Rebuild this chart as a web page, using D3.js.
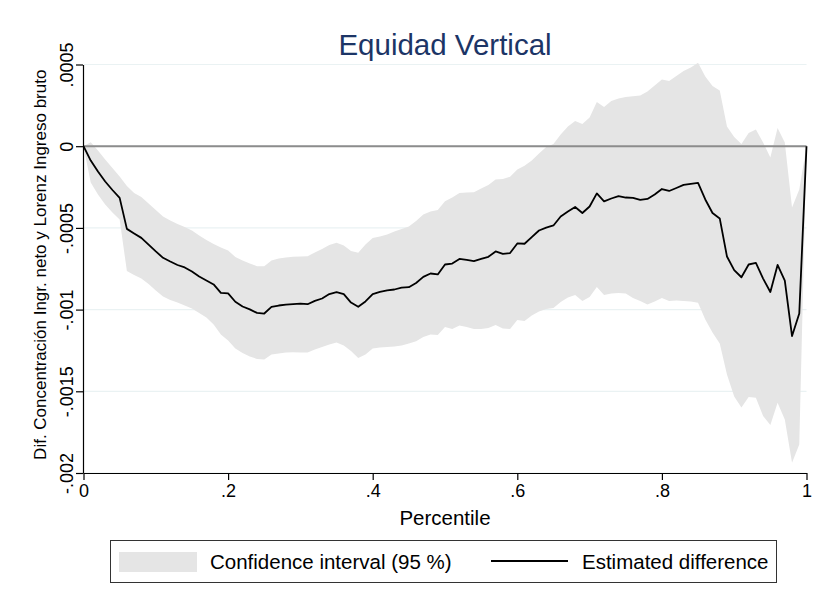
<!DOCTYPE html>
<html>
<head>
<meta charset="utf-8">
<script src="https://cdn.jsdelivr.net/npm/d3@7"></script>
<style>
  html, body { margin: 0; padding: 0; background: #ffffff; }
  svg { display: block; }
  text { font-family: "Liberation Sans", Arial, Helvetica, sans-serif; }
</style>
</head>
<body>
<div id="chart"></div>
<script>
// ---- data ----
const percentiles = [0,0.01,0.02,0.03,0.04,0.05,0.06,0.07,0.08,0.09,0.10,0.11,0.12,0.13,0.14,0.15,0.16,0.17,0.18,0.19,0.20,
  0.21,0.22,0.23,0.24,0.25,0.26,0.27,0.28,0.29,0.30,0.31,0.32,0.33,0.34,0.35,0.36,0.37,0.38,0.39,0.40,
  0.41,0.42,0.43,0.44,0.45,0.46,0.47,0.48,0.49,0.50,0.51,0.52,0.53,0.54,0.55,0.56,0.57,0.58,0.59,0.60,
  0.61,0.62,0.63,0.64,0.65,0.66,0.67,0.68,0.69,0.70,0.71,0.72,0.73,0.74,0.75,0.76,0.77,0.78,0.79,0.80,
  0.81,0.82,0.83,0.84,0.85,0.86,0.87,0.88,0.89,0.90,0.91,0.92,0.93,0.94,0.95,0.96,0.97,0.98,0.99,1.00];

const estimatedDifference = [0,-0.088e-3,-0.155e-3,-0.216e-3,-0.268e-3,-0.316e-3,-0.506e-3,-0.534e-3,-0.561e-3,-0.602e-3,-0.644e-3,
  -0.683e-3,-0.706e-3,-0.727e-3,-0.742e-3,-0.767e-3,-0.797e-3,-0.822e-3,-0.846e-3,-0.898e-3,-0.901e-3,
  -0.952e-3,-0.981e-3,-0.999e-3,-1.020e-3,-1.024e-3,-0.983e-3,-0.975e-3,-0.969e-3,-0.966e-3,-0.963e-3,
  -0.967e-3,-0.947e-3,-0.932e-3,-0.905e-3,-0.893e-3,-0.905e-3,-0.957e-3,-0.983e-3,-0.950e-3,-0.905e-3,
  -0.892e-3,-0.883e-3,-0.877e-3,-0.865e-3,-0.863e-3,-0.837e-3,-0.800e-3,-0.779e-3,-0.785e-3,-0.724e-3,
  -0.718e-3,-0.690e-3,-0.696e-3,-0.703e-3,-0.690e-3,-0.677e-3,-0.644e-3,-0.659e-3,-0.654e-3,-0.595e-3,
  -0.597e-3,-0.556e-3,-0.516e-3,-0.498e-3,-0.485e-3,-0.430e-3,-0.400e-3,-0.372e-3,-0.409e-3,-0.369e-3,
  -0.289e-3,-0.338e-3,-0.320e-3,-0.305e-3,-0.314e-3,-0.316e-3,-0.329e-3,-0.323e-3,-0.296e-3,-0.262e-3,
  -0.274e-3,-0.256e-3,-0.237e-3,-0.230e-3,-0.225e-3,-0.326e-3,-0.409e-3,-0.442e-3,-0.675e-3,-0.758e-3,
  -0.802e-3,-0.724e-3,-0.714e-3,-0.810e-3,-0.892e-3,-0.727e-3,-0.822e-3,-1.162e-3,-1.024e-3,0];

const ciUpper = [0,0.024e-3,-0.026e-3,-0.081e-3,-0.133e-3,-0.185e-3,-0.244e-3,-0.286e-3,-0.311e-3,-0.351e-3,-0.390e-3,
  -0.430e-3,-0.455e-3,-0.476e-3,-0.494e-3,-0.516e-3,-0.547e-3,-0.574e-3,-0.599e-3,-0.620e-3,-0.638e-3,
  -0.678e-3,-0.700e-3,-0.718e-3,-0.734e-3,-0.734e-3,-0.700e-3,-0.687e-3,-0.681e-3,-0.677e-3,-0.675e-3,
  -0.673e-3,-0.651e-3,-0.629e-3,-0.605e-3,-0.591e-3,-0.608e-3,-0.641e-3,-0.652e-3,-0.602e-3,-0.562e-3,
  -0.553e-3,-0.540e-3,-0.522e-3,-0.507e-3,-0.491e-3,-0.458e-3,-0.418e-3,-0.400e-3,-0.390e-3,-0.337e-3,
  -0.314e-3,-0.286e-3,-0.283e-3,-0.282e-3,-0.259e-3,-0.237e-3,-0.204e-3,-0.201e-3,-0.187e-3,-0.143e-3,
  -0.120e-3,-0.088e-3,-0.045e-3,-0.005e-3,0.013e-3,0.072e-3,0.121e-3,0.154e-3,0.136e-3,0.176e-3,
  0.271e-3,0.240e-3,0.277e-3,0.292e-3,0.301e-3,0.306e-3,0.310e-3,0.335e-3,0.371e-3,0.408e-3,
  0.399e-3,0.430e-3,0.460e-3,0.482e-3,0.510e-3,0.427e-3,0.368e-3,0.341e-3,0.121e-3,0.056e-3,
  0.013e-3,0.081e-3,0.102e-3,0.023e-3,-0.069e-3,0.111e-3,0.023e-3,-0.375e-3,-0.265e-3,0];

const ciLower = [0,-0.222e-3,-0.296e-3,-0.357e-3,-0.406e-3,-0.449e-3,-0.764e-3,-0.788e-3,-0.810e-3,-0.843e-3,-0.883e-3,
  -0.920e-3,-0.941e-3,-0.957e-3,-0.975e-3,-0.993e-3,-1.021e-3,-1.048e-3,-1.091e-3,-1.152e-3,-1.189e-3,
  -1.238e-3,-1.266e-3,-1.287e-3,-1.302e-3,-1.305e-3,-1.275e-3,-1.269e-3,-1.263e-3,-1.261e-3,-1.263e-3,
  -1.263e-3,-1.244e-3,-1.229e-3,-1.214e-3,-1.201e-3,-1.220e-3,-1.253e-3,-1.296e-3,-1.275e-3,-1.238e-3,
  -1.232e-3,-1.229e-3,-1.226e-3,-1.220e-3,-1.207e-3,-1.193e-3,-1.168e-3,-1.152e-3,-1.155e-3,-1.107e-3,
  -1.118e-3,-1.097e-3,-1.107e-3,-1.119e-3,-1.119e-3,-1.113e-3,-1.094e-3,-1.116e-3,-1.118e-3,-1.064e-3,
  -1.070e-3,-1.036e-3,-1.012e-3,-0.996e-3,-0.990e-3,-0.953e-3,-0.926e-3,-0.911e-3,-0.947e-3,-0.923e-3,
  -0.862e-3,-0.911e-3,-0.901e-3,-0.898e-3,-0.901e-3,-0.929e-3,-0.947e-3,-0.969e-3,-0.950e-3,-0.929e-3,
  -0.947e-3,-0.944e-3,-0.947e-3,-0.950e-3,-0.958e-3,-1.061e-3,-1.140e-3,-1.207e-3,-1.397e-3,-1.532e-3,
  -1.599e-3,-1.535e-3,-1.540e-3,-1.651e-3,-1.707e-3,-1.570e-3,-1.673e-3,-1.938e-3,-1.826e-3,0];

const xTickValues = [0, 0.2, 0.4, 0.6, 0.8, 1];
const xTickLabels = ["0", ".2", ".4", ".6", ".8", "1"];
const yTickValues = [0.0005, 0, -0.0005, -0.001, -0.0015, -0.002];
const yTickLabels = [".0005", "0", "-.0005", "-.001", "-.0015", "-.002"];

const titleText = "Equidad Vertical";
const xTitle = "Percentile";
const yTitle = "Dif. Concentración Ingr. neto y Lorenz Ingreso bruto";
const legendLabels = ["Confidence interval (95 %)", "Estimated difference"];

// ---- layout ----
const W = 819, H = 597;
const plot = { left: 83.5, right: 806.5, top: 64.5, bottom: 473 };

const svg = d3.select("#chart").append("svg")
  .attr("width", W).attr("height", H)
  .attr("viewBox", `0 0 ${W} ${H}`);

svg.append("rect").attr("x", 0).attr("y", 0).attr("width", W).attr("height", H).attr("fill", "#ffffff");

const x = d3.scaleLinear().domain([0, 1]).range([plot.left, plot.right]);
const y = d3.scaleLinear().domain([-0.002, 0.0005]).range([plot.bottom, plot.top]);

const rows = percentiles.map((p, i) => ({ p, est: estimatedDifference[i], hi: ciUpper[i], lo: ciLower[i] }));

// gridlines
svg.append("g").selectAll("line").data(yTickValues).join("line")
  .attr("x1", plot.left).attr("x2", plot.right)
  .attr("y1", d => y(d)).attr("y2", d => y(d))
  .attr("stroke", "#eaf2f3").attr("stroke-width", 1.2);

// confidence band
svg.append("path").datum(rows)
  .attr("d", d3.area().x(d => x(d.p)).y0(d => y(d.lo)).y1(d => y(d.hi)))
  .attr("fill", "#e5e5e5").attr("stroke", "none");

// zero reference line
svg.append("line")
  .attr("x1", plot.left).attr("x2", plot.right)
  .attr("y1", y(0)).attr("y2", y(0))
  .attr("stroke", "#8c8c8c").attr("stroke-width", 2);

// estimate line
svg.append("path").datum(rows)
  .attr("d", d3.line().x(d => x(d.p)).y(d => y(d.est)))
  .attr("fill", "none").attr("stroke", "#000000").attr("stroke-width", 1.8)
  .attr("stroke-linejoin", "round");

// axes
const yAxis = svg.append("g").attr("transform", `translate(${plot.left - 0.5},0)`)
  .call(d3.axisLeft(y).tickValues(yTickValues).tickSize(7).tickSizeOuter(0)
    .tickFormat((d, i) => yTickLabels[i]));
yAxis.select(".domain").attr("stroke", "#000").attr("stroke-width", 1.2);
yAxis.selectAll(".tick line").attr("stroke", "#000").attr("stroke-width", 1.2);
yAxis.selectAll(".tick text")
  .attr("font-size", 18).attr("fill", "#000")
  .attr("text-anchor", "middle").attr("dy", null)
  .attr("x", 0).attr("y", -10)
  .attr("transform", "rotate(-90)");

const xAxis = svg.append("g").attr("transform", `translate(0,${plot.bottom})`)
  .call(d3.axisBottom(x).tickValues(xTickValues).tickSize(7).tickSizeOuter(0).tickPadding(4)
    .tickFormat((d, i) => xTickLabels[i]));
xAxis.select(".domain").attr("stroke", "#000").attr("stroke-width", 1.2);
xAxis.selectAll(".tick line").attr("stroke", "#000").attr("stroke-width", 1.2);
xAxis.selectAll(".tick text").attr("font-size", 18).attr("fill", "#000");

// titles
svg.append("text").attr("x", (plot.left + plot.right) / 2).attr("y", 55)
  .attr("text-anchor", "middle").attr("font-size", 29.5).attr("fill", "#1c3566")
  .text(titleText);

svg.append("text").attr("x", (plot.left + plot.right) / 2).attr("y", 525)
  .attr("text-anchor", "middle").attr("font-size", 20.5).attr("fill", "#000")
  .text(xTitle);

svg.append("text")
  .attr("transform", `translate(46,${(plot.top + plot.bottom) / 2 - 4}) rotate(-90)`)
  .attr("text-anchor", "middle").attr("font-size", 17).attr("fill", "#000")
  .text(yTitle);

// legend
const lg = svg.append("g");
lg.append("rect").attr("x", 110.5).attr("y", 540.5).attr("width", 666).attr("height", 42)
  .attr("fill", "#fff").attr("stroke", "#333").attr("stroke-width", 1);
lg.append("rect").attr("x", 119).attr("y", 552).attr("width", 78).attr("height", 20)
  .attr("fill", "#e5e5e5");
lg.append("text").attr("x", 210).attr("y", 569).attr("font-size", 20.5).attr("fill", "#000")
  .text(legendLabels[0]);
lg.append("line").attr("x1", 491).attr("x2", 568).attr("y1", 561).attr("y2", 561)
  .attr("stroke", "#000").attr("stroke-width", 1.8);
lg.append("text").attr("x", 582).attr("y", 569).attr("font-size", 20.5).attr("fill", "#000")
  .text(legendLabels[1]);
</script>
</body>
</html>
